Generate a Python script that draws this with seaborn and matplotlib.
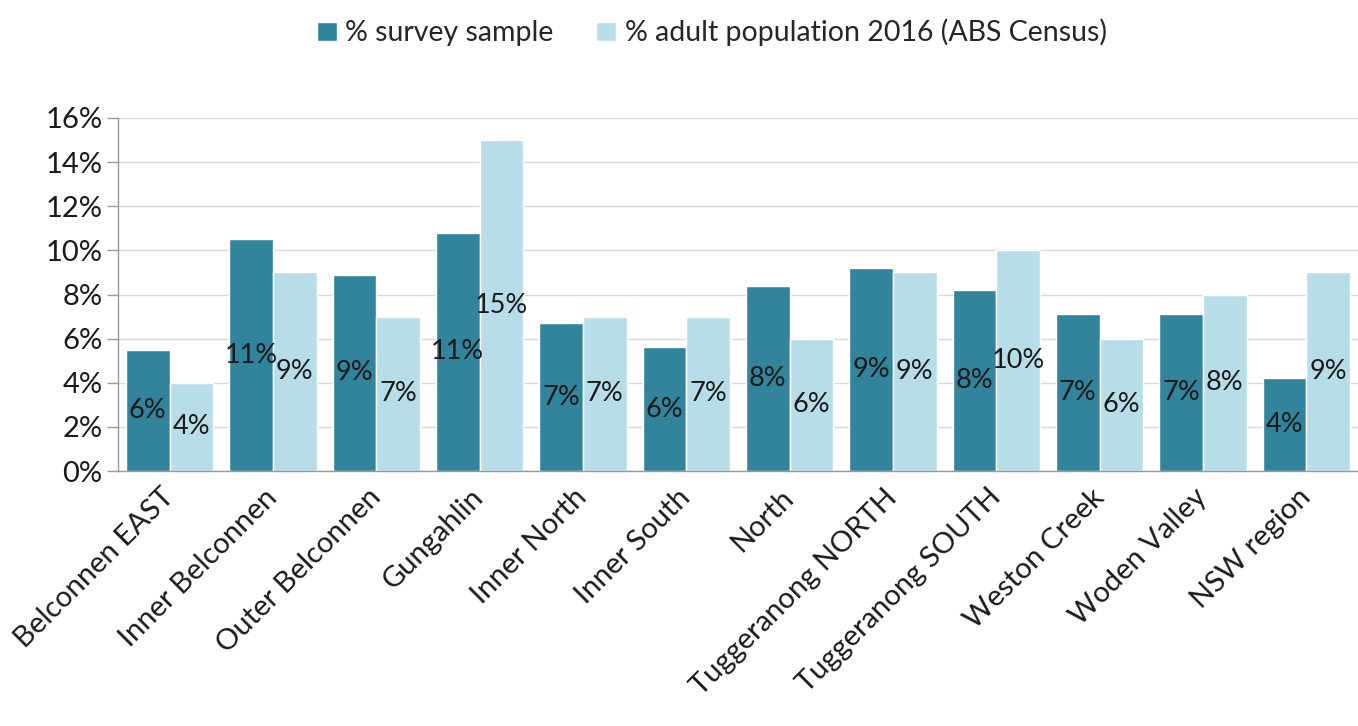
import numpy as np
import pandas as pd
import seaborn as sns
import matplotlib.pyplot as plt

# region names and shares (%)
regions = ['Belconnen EAST', 'Inner Belconnen', 'Outer Belconnen', 'Gungahlin',
           'Inner North', 'Inner South', 'North', 'Tuggeranong NORTH',
           'Tuggeranong SOUTH', 'Weston Creek', 'Woden Valley', 'NSW region']
survey = [5.5, 10.5, 8.9, 10.8, 6.7, 5.6, 8.4, 9.2, 8.2, 7.1, 7.1, 4.2]
census = [4, 9, 7, 15, 7, 7, 6, 9, 10, 6, 8, 9]
series = ['% survey sample', '% adult population 2016 (ABS Census)']
colors = ['#31849B', '#B7DEE8']

df = pd.DataFrame({
    'region': regions * 2,
    'value': survey + census,
    'series': [series[0]] * len(regions) + [series[1]] * len(regions),
})

sns.set_style('white')
plt.rcParams['font.family'] = ['Lato', 'DejaVu Sans']

fig = plt.figure(figsize=(13.58, 7.26), dpi=100)
ax = fig.add_axes([118 / 1358, 1 - 471 / 726, 1 - 118 / 1358, 353 / 726])

sns.barplot(data=df, x='region', y='value', hue='series', palette=colors,
            width=0.846, gap=0, saturation=1, ax=ax, legend=True)

# data labels in the middle of each bar, rounded to whole percent
for cont, vals in zip(ax.containers, [survey, census]):
    ax.bar_label(cont, labels=[f'{round(v + 1e-9)}%' for v in vals],
                 label_type='center', fontsize=19.5, color='#1a1a1a')

ax.set_ylim(0, 16)
ax.set_xlim(-0.5, 11.42)
ax.set_yticks(np.arange(0, 17, 2))
ax.set_yticklabels([f'{t}%' for t in range(0, 17, 2)], fontsize=21, color='#1a1a1a')
ax.yaxis.grid(True, color='#D9D9D9', linewidth=1)
ax.set_axisbelow(True)

ax.set_xticks(range(len(regions)))
ax.set_xticklabels(regions, rotation=45, ha='right', va='center',
                   rotation_mode='anchor', fontsize=21, color='#1a1a1a')
ax.set_xticks(np.arange(-0.5, len(regions)), minor=True)
ax.tick_params(axis='x', which='major', length=0, pad=16)
ax.tick_params(axis='x', which='minor', length=8, color='#999999', width=1, direction='out')
ax.tick_params(axis='y', length=8, color='#999999', width=1, direction='out', left=True, pad=3)

for side in ['top', 'right']:
    ax.spines[side].set_visible(False)
for side in ['left', 'bottom']:
    ax.spines[side].set_color('#999999')
    ax.spines[side].set_linewidth(1)

ax.set_xlabel('')
ax.set_ylabel('')

handles, labels = ax.get_legend_handles_labels()
ax.legend_.remove()
fig.legend(handles, labels, loc='center', bbox_to_anchor=(0.524, 0.955), ncol=2,
           frameon=False, fontsize=20.5, handlelength=0.7, handleheight=0.7,
           handletextpad=0.3, columnspacing=1.5)

plt.savefig('out.png', dpi=100)
